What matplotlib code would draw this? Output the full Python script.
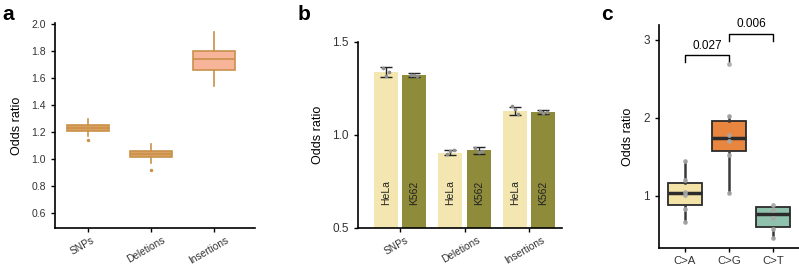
import numpy as np
import matplotlib
matplotlib.use("Agg")
import matplotlib.pyplot as plt
import matplotlib.transforms as mtransforms

plt.rcParams['font.family'] = ['Liberation Sans', 'DejaVu Sans']
plt.rcParams['font.size'] = 8

# panel a: box stats per variant type
a_cats = ["SNPs", "Deletions", "Insertions"]
a_q1 = [1.21, 1.015, 1.66]
a_med = [1.23, 1.04, 1.74]
a_q3 = [1.255, 1.06, 1.80]
a_lo = [1.17, 0.97, 1.54]
a_hi = [1.30, 1.11, 1.94]
a_fliers = [[1.14], [0.92], []]
a_fill = ["#dba15e", "#dba15e", "#f7b499"]

# panel b: bars HeLa / K562
b_cats = ["SNPs", "Deletions", "Insertions"]
b_hela = [1.338, 0.905, 1.13]
b_k562 = [1.322, 0.918, 1.125]
b_hela_err = [0.027, 0.015, 0.02]
b_k562_err = [0.01, 0.02, 0.012]
b_hela_pts = [[1.36, 1.315, 1.34], [0.90, 0.915, 0.92], [1.155, 1.14, 1.115]]
b_k562_pts = [[1.325, 1.32, 1.318], [0.93, 0.91, 0.915], [1.128, 1.12, 1.125]]

# panel c: box stats + points per substitution
c_cats = ["C>A", "C>G", "C>T"]
c_q1 = [0.88, 1.57, 0.60]
c_med = [1.04, 1.74, 0.77]
c_q3 = [1.17, 1.96, 0.86]
c_lo = [0.66, 1.04, 0.46]
c_hi = [1.45, 2.02, 0.86]
c_pts = [[1.45, 1.20, 1.05, 1.01, 0.83, 0.66],
         [2.69, 2.02, 1.78, 1.70, 1.52, 1.04],
         [0.88, 0.82, 0.72, 0.58, 0.46]]
c_fill = ["#f3e3a6", "#e8853f", "#8fc2ad"]
c_pvals = ["0.027", "0.006"]
c_pairs = [(0, 1), (1, 2)]
c_bracket_y = [2.81, 3.08]

W, H = 799, 267
fig = plt.figure(figsize=(W / 100, H / 100), dpi=100)


def add_ax(l, t, r, b):
    return fig.add_axes([l / W, 1 - b / H, (r - l) / W, (b - t) / H])


def style(ax, ysize=8.5, xsize=8.5, xpad=4):
    for s in ["top", "right"]:
        ax.spines[s].set_visible(False)
    for s in ["left", "bottom"]:
        ax.spines[s].set_linewidth(1.2)
    ax.tick_params(width=1.0, length=3, color="black", labelcolor="#333333")
    ax.tick_params(axis="y", labelsize=ysize)
    ax.tick_params(axis="x", labelsize=xsize, pad=xpad)


def shift_xlabels(ax, dx):
    off = mtransforms.ScaledTranslation(dx / 100, 0, fig.dpi_scale_trans)
    for lab in ax.get_xticklabels():
        lab.set_transform(lab.get_transform() + off)


# ---- a
ax = add_ax(55, 23, 255, 228)
stats = []
for i in range(3):
    stats.append(dict(q1=a_q1[i], med=a_med[i], q3=a_q3[i],
                      whislo=a_lo[i], whishi=a_hi[i], fliers=a_fliers[i]))
ec = "#c9914b"
bp = ax.bxp(stats, positions=range(3), widths=0.67, patch_artist=True,
            showcaps=False,
            boxprops=dict(edgecolor=ec, linewidth=1.2),
            medianprops=dict(color=ec, linewidth=1.2),
            whiskerprops=dict(color=ec, linewidth=1.2),
            flierprops=dict(marker="o", markersize=2.5, markerfacecolor=ec,
                            markeredgecolor="none"))
for p, c in zip(bp["boxes"], a_fill):
    p.set_facecolor(c)
ax.set_xlim(-0.52, 2.65)
ax.set_ylim(0.49, 2.01)
ax.set_yticks(np.arange(0.6, 2.01, 0.2))
ax.set_yticklabels([f"{v:.1f}" for v in np.arange(0.6, 2.01, 0.2)])
ax.set_xticks(range(3))
ax.set_xticklabels(a_cats, rotation=30)
ax.set_ylabel("Odds ratio", fontsize=9, labelpad=6)
style(ax, ysize=7.5, xsize=7.3, xpad=2)
shift_xlabels(ax, -5)

# ---- b
ax = add_ax(358, 42, 562, 228)
x = np.arange(3)
off, bw = 0.22, 0.37
ax.bar(x - off, np.array(b_hela) - 0.5, bw, bottom=0.5, color="#f3e6b0")
ax.bar(x + off, np.array(b_k562) - 0.5, bw, bottom=0.5, color="#8e8b3b")
ax.errorbar(x - off, b_hela, yerr=b_hela_err, fmt="none", ecolor="#222222",
            elinewidth=1.0, capsize=4, capthick=1.0)
ax.errorbar(x + off, b_k562, yerr=b_k562_err, fmt="none", ecolor="#222222",
            elinewidth=1.0, capsize=4, capthick=1.0)
jit = [-0.05, 0.0, 0.05]
for i in range(3):
    ax.scatter(x[i] - off + np.array(jit), b_hela_pts[i], s=7, color="#8f8f8f",
               zorder=3, linewidths=0)
    ax.scatter(x[i] + off + np.array(jit), b_k562_pts[i], s=7, color="#8f8f8f",
               zorder=3, linewidths=0)
    ax.text(x[i] - off, 0.69, "HeLa", rotation=90, ha="center", va="center",
            fontsize=7.5, color="#222222")
    ax.text(x[i] + off, 0.69, "K562", rotation=90, ha="center", va="center",
            fontsize=7.5, color="#222222")
ax.set_xlim(-0.65, 2.51)
ax.set_ylim(0.5, 1.5)
ax.set_yticks([0.5, 1.0, 1.5])
ax.set_yticklabels(["0.5", "1.0", "1.5"])
ax.set_xticks(x)
ax.set_xticklabels(b_cats, rotation=30)
ax.set_ylabel("Odds ratio", fontsize=9, labelpad=6)
style(ax, xsize=7.3, xpad=2)
shift_xlabels(ax, -4)

# ---- c
ax = add_ax(659, 25, 799, 248)
stats = []
for i in range(3):
    stats.append(dict(q1=c_q1[i], med=c_med[i], q3=c_q3[i],
                      whislo=c_lo[i], whishi=c_hi[i], fliers=[]))
bp = ax.bxp(stats, positions=range(3), widths=0.78, patch_artist=True,
            showcaps=False,
            boxprops=dict(edgecolor="#2b2b2b", linewidth=1.3),
            medianprops=dict(color="#2b2b2b", linewidth=2.5),
            whiskerprops=dict(color="#3a3a3a", linewidth=1.8))
for p, c in zip(bp["boxes"], c_fill):
    p.set_facecolor(c)
for i, pts in enumerate(c_pts):
    ax.scatter(np.full(len(pts), i), pts, s=12, color="#a8a8a8", zorder=4,
               linewidths=0, alpha=0.9)
for (i, j), yb, lab in zip(c_pairs, c_bracket_y, c_pvals):
    ax.plot([i, i, j, j], [yb - 0.09, yb, yb, yb - 0.09], color="black", lw=1.0)
    ax.text((i + j) / 2, yb + 0.04, lab, ha="center", va="bottom", fontsize=8.5)
ax.set_xlim(-0.59, 2.59)
ax.set_ylim(0.33, 3.19)
ax.set_yticks([1, 2, 3])
ax.set_xticks(range(3))
ax.set_xticklabels(c_cats)
ax.set_ylabel("Odds ratio", fontsize=9, labelpad=7)
style(ax, xsize=8.2, xpad=2.5)

# panel letters
for xp, lab in [(2, "a"), (298, "b"), (601, "c")]:
    fig.text(xp / W, 1 - 20 / H, lab, fontsize=15, fontweight="bold",
             ha="left", va="baseline")

fig.savefig("out.png", dpi=100)
